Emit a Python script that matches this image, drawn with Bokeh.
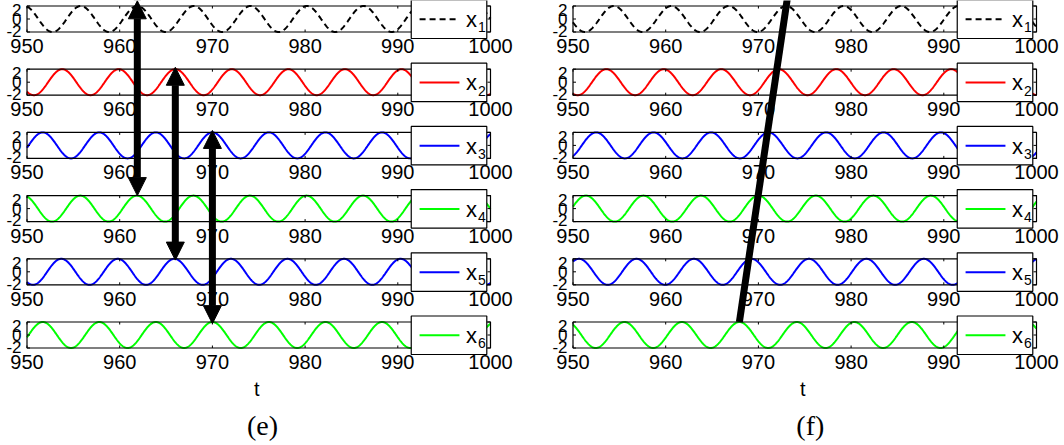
import numpy as np
from bokeh.plotting import figure
from bokeh.models import Range1d, Arrow, NormalHead, ColumnDataSource
from bokeh.core.properties import value
from bokeh.embed import file_html
from bokeh.resources import INLINE

# ---------------- data ----------------
series_index = ["1", "2", "3", "4", "5", "6"]
series_colors = ["#000000", "#ff0000", "#0000ff", "#00ff00", "#0000ff", "#00ff00"]
series_dash = ["6 4", "solid", "solid", "solid", "solid", "solid"]

amplitude = 2.0
# panel (e): three in-phase pairs
period_e = 6.1
peak_time_e = [961.9, 966.0, 970.0, 961.85, 965.9, 970.0]
# panel (f): travelling wave, each oscillator slightly ahead of the next
period_f = 6.2
peak_time_f = [973.0, 972.2, 971.1, 970.0, 969.25, 967.95]

x_ticks = [950, 960, 970, 980, 990, 1000]
y_ticks = [-2, 0, 2]
t_start, t_end = 950, 1000

# double arrows in (e): linking rows that are in phase
arrow_from_row = [0, 1, 2]
arrow_to_row = [3, 4, 5]

# ---------------- geometry ----------------
W, H = 1064, 445
PX_T = 9.27            # pixels per time unit
PX_Y = 6.5             # pixels per signal unit
ROW_TOP_PX = 5.5
ROW_STEP = 63.2 / PX_Y
centers = [-k * ROW_STEP for k in range(6)]

left_x0 = 950 - 26.5 / PX_T
right_x0 = 950 - 572.5 / PX_T
y_top = 2 + ROW_TOP_PX / PX_Y
y_bot = y_top - H / PX_Y

p = figure(width=W, height=H, output_backend="svg", toolbar_location=None,
           x_range=Range1d(left_x0, left_x0 + W / PX_T),
           y_range=Range1d(y_bot, y_top),
           x_axis_type=None, y_axis_type=None, min_border=0,
           background_fill_color="white", border_fill_color="white")
p.extra_x_ranges = {"right": Range1d(right_x0, right_x0 + W / PX_T)}
p.outline_line_color = None
p.grid.visible = False

FONT = value("Liberation Sans")
SERIF = value("Liberation Serif")

t = np.linspace(t_start, t_end, 1201)

box_left, box_right = 991.45, 999.6
tick_len_y = 2.5 / PX_Y
tick_len_t = 3.0 / PX_T
LW = 2.0


def draw_panel(rng, period, peaks):
    # traces
    for k in range(6):
        y = amplitude * np.cos(2 * np.pi * (t - peaks[k]) / period) + centers[k]
        p.line(t, y, line_color=series_colors[k], line_width=LW,
               line_dash=series_dash[k], x_range_name=rng)

    for k, c in enumerate(centers):
        # axes box
        p.quad(left=[t_start], right=[t_end], top=[c + 2], bottom=[c - 2],
               fill_color=None, line_color="black", line_width=1.2,
               x_range_name=rng)
        # inward ticks
        xt = x_ticks
        p.segment(x0=xt, y0=[c + 2] * len(xt), x1=xt, y1=[c + 2 - tick_len_y] * len(xt),
                  line_color="black", line_width=1, x_range_name=rng)
        p.segment(x0=xt, y0=[c - 2] * len(xt), x1=xt, y1=[c - 2 + tick_len_y] * len(xt),
                  line_color="black", line_width=1, x_range_name=rng)
        yt = [c + v for v in y_ticks]
        p.segment(x0=[t_start] * 3, y0=yt, x1=[t_start + tick_len_t] * 3, y1=yt,
                  line_color="black", line_width=1, x_range_name=rng)
        p.segment(x0=[t_end] * 3, y0=yt, x1=[t_end - tick_len_t] * 3, y1=yt,
                  line_color="black", line_width=1, x_range_name=rng)
        # tick labels
        p.text(x=xt, y=[c - 2 - 14 / PX_Y] * len(xt), text=[str(v) for v in xt],
               text_font=FONT, text_font_size="20px", text_align="center",
               text_baseline="middle", text_color="black", x_range_name=rng)
        ylab_y = [c - 2 + 0.2, c, c + 2 - 0.65]
        p.text(x=[t_start - 5.5 / PX_T] * 3, y=ylab_y, text=[str(v) for v in y_ticks],
               text_font=FONT, text_font_size="17px", text_align="right",
               text_baseline="middle", text_color="black", x_range_name=rng)

    # legends
    for k, c in enumerate(centers):
        p.quad(left=[box_left], right=[box_right], top=[c + 19 / PX_Y],
               bottom=[c - 19.5 / PX_Y], fill_color="white", line_color="black",
               line_width=1.2, x_range_name=rng)
        p.line([box_left + 0.9, box_left + 5.2], [c - 0.05, c - 0.05],
               line_color=series_colors[k], line_width=LW,
               line_dash=series_dash[k], x_range_name=rng)
        p.text(x=[box_left + 5.9], y=[c - 0.1], text=["x"], text_font=FONT,
               text_font_size="22px", text_align="left", text_baseline="middle",
               x_range_name=rng)
        p.text(x=[box_left + 7.2], y=[c - 1.3], text=[series_index[k]],
               text_font=FONT, text_font_size="14px", text_align="left",
               text_baseline="middle", x_range_name=rng)

    # axis name
    p.text(x=[974.8], y=[2 - (388 - ROW_TOP_PX) / PX_Y], text=["t"], text_font=FONT,
           text_font_size="20px", text_align="center", text_baseline="middle",
           x_range_name=rng)


draw_panel("default", period_e, peak_time_e)
draw_panel("right", period_f, peak_time_f)

cap_y = 2 - (425 - ROW_TOP_PX) / PX_Y
p.text(x=[975.4], y=[cap_y], text=["(e)"], text_font=SERIF, text_font_size="28px",
       text_align="center", text_baseline="middle")
p.text(x=[975.6], y=[cap_y], text=["(f)"], text_font=SERIF, text_font_size="28px",
       text_align="center", text_baseline="middle", x_range_name="right")

# (e): double-headed arrows between in-phase peaks
top_gap = [0.8, 0.3, 0.3]
bottom_gap = [0.0, -0.2, -0.25]
arrow_src = ColumnDataSource(dict(
    xs=[peak_time_e[a] for a in arrow_from_row],
    ys=[centers[a] + 2 + g for a, g in zip(arrow_from_row, top_gap)],
    xe=[peak_time_e[a] for a in arrow_from_row],
    ye=[centers[b] + 2 + g for b, g in zip(arrow_to_row, bottom_gap)],
))
p.add_layout(Arrow(x_start="xs", y_start="ys", x_end="xe", y_end="ye", source=arrow_src,
                   line_width=7, line_color="black",
                   start=NormalHead(size=18, fill_color="black", line_color="black"),
                   end=NormalHead(size=18, fill_color="black", line_color="black")))

# (f): wave front through the peaks of x6 and x1, running off the top
x_lo, y_lo = peak_time_f[5], centers[5] + 2
x_hi, y_hi = peak_time_f[0], centers[0] + 2
y_ext = y_top + 0.5
x_ext = x_lo + (x_hi - x_lo) * (y_ext - y_lo) / (y_hi - y_lo)
p.segment(x0=[x_lo], y0=[y_lo], x1=[x_ext], y1=[y_ext], line_color="black",
          line_width=7, line_cap="butt", x_range_name="right")

open("out.html", "w").write(file_html(p, INLINE))
